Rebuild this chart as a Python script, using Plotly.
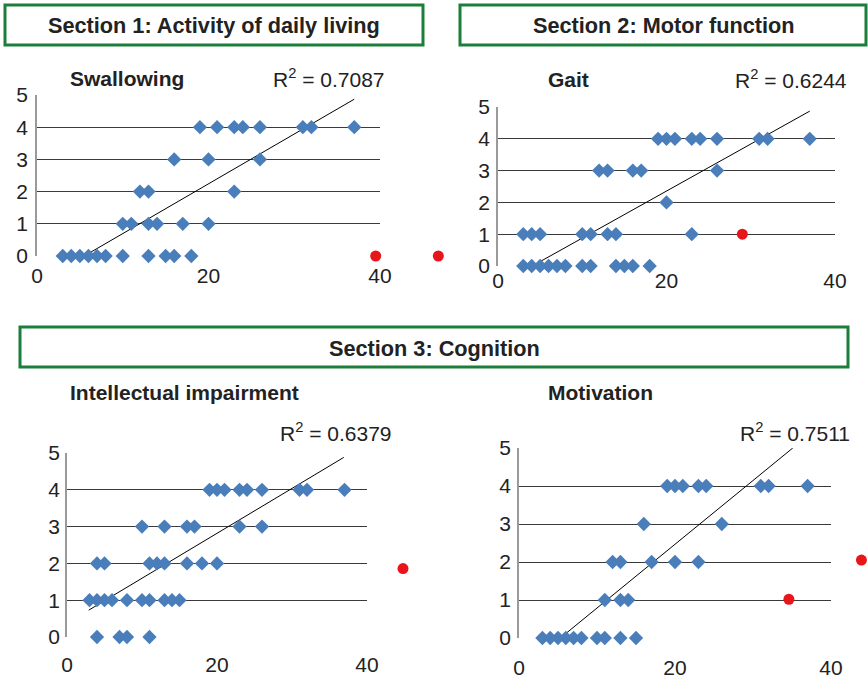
import plotly.graph_objects as go

# ---------------- data ----------------
swallow_x = [3, 4, 5, 6, 7, 8, 10, 13, 15, 16, 18,
             10, 11, 13, 14, 17, 20,
             12, 13, 23,
             16, 20, 26,
             19, 21, 23, 24, 26, 31, 32, 37]
swallow_y = [0]*11 + [1]*6 + [2]*3 + [3]*3 + [4]*8
swallow_red_x = [39.5, 46.8]
swallow_red_y = [0, 0]
swallow_trend_x = [5.5, 37.0]
swallow_trend_y = [0.0, 4.87]

gait_x = [3, 4, 5, 6, 7, 8, 10, 11, 14, 15, 16, 18,
          3, 4, 5, 10, 11, 13, 14, 23,
          20,
          12, 13, 16, 17, 26,
          19, 20, 21, 23, 24, 26, 31, 32, 37]
gait_y = [0]*12 + [1]*8 + [2]*1 + [3]*5 + [4]*9
gait_red_x = [29]
gait_red_y = [1]
gait_trend_x = [4.4, 37.0]
gait_trend_y = [0.05, 4.87]

intel_x = [4, 7, 8, 11,
           3, 4, 5, 6, 8, 10, 11, 13, 14, 15,
           4, 5, 11, 12, 13, 16, 18, 20,
           10, 13, 16, 17, 23, 26,
           19, 20, 21, 23, 24, 26, 31, 32, 37]
intel_y = [0]*4 + [1]*10 + [2]*8 + [3]*6 + [4]*9
intel_red_x = [44.8]
intel_red_y = [1.86]
intel_trend_x = [2.9, 36.9]
intel_trend_y = [0.73, 4.88]

motiv_x = [3, 4, 5, 6, 7, 8, 10, 11, 13, 15,
           11, 13, 14,
           12, 13, 17, 20, 23,
           16, 26,
           19, 20, 21, 23, 24, 31, 32, 37]
motiv_y = [0]*10 + [1]*3 + [2]*5 + [3]*2 + [4]*8
motiv_red_x = [34.6, 43.9]
motiv_red_y = [1.02, 2.05]
motiv_trend_x = [5.3, 35.1]
motiv_trend_y = [0.0, 5.0]

panel_titles = ["Swallowing", "Gait", "Intellectual impairment", "Motivation"]
r2_labels = ["0.7087", "0.6244", "0.6379", "0.7511"]
section_titles = ["Section 1: Activity of daily living", "Section 2: Motor function",
                  "Section 3: Cognition"]
x_ticks = [0, 20, 40]
y_ticks = [0, 1, 2, 3, 4, 5]

# ---------------- layout helpers ----------------
W, H = 868, 682
def px(x):
    return x / W
def py(y):
    return 1 - y / H

X_MAX = 40
panels = [
    dict(data=(swallow_x, swallow_y, swallow_red_x, swallow_red_y, swallow_trend_x, swallow_trend_y),
         xd=(37, 380), yd=(256, 95), xlen=1, xoff=0, ystand=3),
    dict(data=(gait_x, gait_y, gait_red_x, gait_red_y, gait_trend_x, gait_trend_y),
         xd=(498, 835), yd=(266, 107), xlen=0, xoff=0, ystand=2),
    dict(data=(intel_x, intel_y, intel_red_x, intel_red_y, intel_trend_x, intel_trend_y),
         xd=(67, 367), yd=(637, 453), xlen=9, xoff=0, ystand=1),
    dict(data=(motiv_x, motiv_y, motiv_red_x, motiv_red_y, motiv_trend_x, motiv_trend_y),
         xd=(519, 831), yd=(638, 448), xlen=11, xoff=0, ystand=2),
]

BLUE = "#4A7EBB"
RED = "#E8161B"
FONT = "Liberation Sans, Arial, Helvetica, sans-serif"
TICKFONT = dict(family=FONT, size=21, color="#222")
CLEAR = "rgba(0,0,0,0)"

fig = go.Figure()
layout = {}
shapes = []
annotations = []
n = len(panels)
for i, p in enumerate(panels, start=1):
    xs, ys, rx, ry, tx, ty = p["data"]
    xa = "x" if i == 1 else f"x{i}"
    ya = "y" if i == 1 else f"y{i}"
    # overlay axes (same pixel scale, wider to the right) for highlighted points
    j = i + n
    xa2, ya2 = f"x{j}", f"y{j}"
    scale = (p["xd"][1] - p["xd"][0]) / X_MAX
    end_px = min(W, p["xd"][0] + 50 * scale)
    ext_range = (end_px - p["xd"][0]) / scale

    fig.add_trace(go.Scatter(x=tx, y=ty, mode="lines", line=dict(color="black", width=1),
                             xaxis=xa, yaxis=ya, showlegend=False, hoverinfo="skip",
                             cliponaxis=False))
    fig.add_trace(go.Scatter(x=xs, y=ys, mode="markers",
                             marker=dict(symbol="diamond", size=11, color=BLUE,
                                         line=dict(width=0)),
                             xaxis=xa, yaxis=ya, showlegend=False, cliponaxis=False))
    fig.add_trace(go.Scatter(x=rx, y=ry, mode="markers",
                             marker=dict(symbol="circle", size=11, color=RED,
                                         line=dict(width=0)),
                             xaxis=xa2, yaxis=ya2, showlegend=False, cliponaxis=False))

    xt = dict(domain=[px(p["xd"][0]), px(p["xd"][1])], range=[0, X_MAX], anchor=ya,
              tickvals=x_ticks, ticktext=[str(v) for v in x_ticks], showgrid=False,
              zeroline=False, showline=False, tickfont=TICKFONT, fixedrange=True,
              automargin=False)
    if p["xlen"] > 0:
        xt.update(ticks="outside", ticklen=p["xlen"], tickcolor=CLEAR)
    else:
        xt.update(ticks="", ticklabelstandoff=p["xoff"])
    layout[f"xaxis{'' if i == 1 else i}"] = xt
    layout[f"yaxis{'' if i == 1 else i}"] = dict(
        domain=[py(p["yd"][0]), py(p["yd"][1])], range=[0, 5], anchor=xa,
        tickvals=y_ticks, showgrid=True, gridcolor="#3a3a3a", gridwidth=1,
        zeroline=False, showline=True, linecolor="#9a9a9a", linewidth=1.5,
        ticks="outside", ticklen=p["ystand"], tickcolor=CLEAR,
        tickfont=TICKFONT, fixedrange=True, automargin=False)
    layout[f"xaxis{j}"] = dict(domain=[px(p["xd"][0]), px(end_px)], range=[0, ext_range],
                               anchor=ya2, visible=False, fixedrange=True)
    layout[f"yaxis{j}"] = dict(domain=[py(p["yd"][0]), py(p["yd"][1])], range=[0, 5],
                               anchor=xa2, visible=False, fixedrange=True)

fig.update_layout(**layout)

# section header boxes
boxes = [(5, 5, 423, 45), (460, 5, 866, 45), (20, 327, 848, 367)]
for (x0, y0, x1, y1), t in zip(boxes, section_titles):
    shapes.append(dict(type="rect", xref="paper", yref="paper",
                       x0=px(x0), x1=px(x1), y0=py(y1), y1=py(y0),
                       line=dict(color="#1B7F3B", width=3), fillcolor="white", layer="below"))
    annotations.append(dict(xref="paper", yref="paper", x=px((x0 + x1) / 2), y=py((y0 + y1) / 2 + 1),
                            text=f"<b>{t}</b>", showarrow=False, xanchor="center", yanchor="middle",
                            font=dict(family=FONT, size=21.7, color="#222")))

# panel titles
title_pos = [(68, 78), (546, 79), (68, 392), (546, 392)]
for (x, y), t in zip(title_pos, panel_titles):
    annotations.append(dict(xref="paper", yref="paper", x=px(x), y=py(y), text=f"<b>{t}</b>",
                            showarrow=False, xanchor="left", yanchor="middle",
                            font=dict(family=FONT, size=21, color="#222")))
# R2 labels
r2_pos = [(387, 78), (849, 79), (394, 432), (852, 432)]
for (x, y), t in zip(r2_pos, r2_labels):
    annotations.append(dict(xref="paper", yref="paper", x=px(x), y=py(y),
                            text=f"R<sup>2</sup> = {t}", showarrow=False,
                            xanchor="right", yanchor="middle",
                            font=dict(family=FONT, size=21, color="#222")))

fig.update_layout(shapes=shapes, annotations=annotations, width=W, height=H,
                  margin=dict(l=0, r=0, t=0, b=0, autoexpand=False), paper_bgcolor="white",
                  plot_bgcolor=CLEAR, showlegend=False)

fig.write_html("out.html", config={"displayModeBar": False},
               post_script="document.body.style.margin='0';document.body.style.padding='0';"
                           "document.documentElement.style.overflow='hidden';")
